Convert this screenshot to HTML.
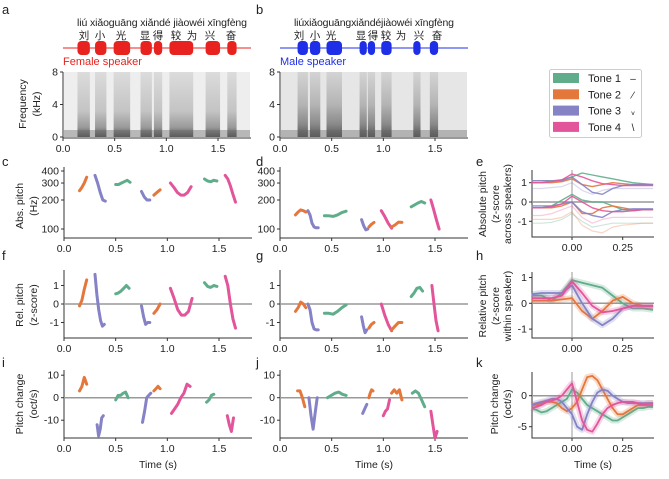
<!DOCTYPE html>
<html><head><meta charset="utf-8"><style>
body{margin:0;background:#fff}
svg{font-family:"Liberation Sans","Noto Sans CJK SC",sans-serif;display:block}
.t{font-size:10.5px;fill:#222}
.ax{stroke:#333;stroke-width:1;fill:none}
.z{stroke:#999;stroke-width:1.5}
</style></head><body>
<svg id="fig" width="669" height="479" viewBox="0 0 669 479">
<defs>
<linearGradient id="specF" x1="0" y1="0" x2="0" y2="1"><stop offset="0" stop-color="#dcdcdc"/><stop offset="0.6" stop-color="#c4c4c4"/><stop offset="0.85" stop-color="#9a9a9a"/><stop offset="1" stop-color="#555"/></linearGradient>
<linearGradient id="specM" x1="0" y1="0" x2="0" y2="1"><stop offset="0" stop-color="#d4d4d4"/><stop offset="0.5" stop-color="#b4b4b4"/><stop offset="0.8" stop-color="#8a8a8a"/><stop offset="1" stop-color="#555"/></linearGradient>
</defs>
<g id="root"></g>
</svg>
<script>
// ---------- data ----------
const toneColors=['#5fad8b','#e4773c','#8582c6','#e3559b'];
const toneNames=['Tone 1','Tone 2','Tone 3','Tone 4'];
const toneMarks=['–','∕','ᵥ','\\'];
// segments: [tone, t0, t1, values]
const cF=[[1,0.15,0.22,[250,270,300,345]],[2,0.30,0.40,[360,300,240,200,195]],[0,0.50,0.64,[290,290,300,310,320,305]],[2,0.75,0.83,[245,215,200,200]],[1,0.87,0.93,[225,240,255]],[3,1.03,1.23,[300,270,240,225,225,240,275]],[0,1.36,1.48,[330,315,310,320,315]],[3,1.56,1.66,[360,330,280,230,190]]];
const dM=[[1,0.15,0.25,[140,150,158,155,150]],[2,0.27,0.37,[155,140,115,105,103,103]],[0,0.43,0.64,[137,137,135,140,148,153]],[2,0.79,0.85,[125,108,98,100]],[1,0.86,0.91,[105,112,117]],[3,0.98,1.08,[155,135,115,102]],[1,1.08,1.18,[105,110,118,117]],[0,1.27,1.40,[170,178,186,193,186]],[3,1.46,1.54,[200,160,125,100]]];
const fF=[[1,0.15,0.22,[-0.1,0.2,0.8,1.3]],[2,0.30,0.39,[1.6,0.5,-0.3,-0.9,-1.2,-1.1]],[0,0.50,0.63,[0.55,0.6,0.7,0.85,1.0,0.85]],[2,0.75,0.83,[-0.1,-0.7,-1.1,-1.0,-1.0]],[1,0.87,0.93,[-0.5,-0.3,0.0]],[3,1.03,1.24,[0.85,0.3,-0.3,-0.6,-0.6,-0.4,0.3]],[0,1.36,1.48,[1.15,0.95,0.9,1.0,0.95]],[3,1.56,1.66,[1.5,1.0,0.0,-0.8,-1.3]]];
const gM=[[1,0.15,0.25,[-0.4,-0.2,0.1,0.0,-0.2]],[2,0.27,0.37,[0.0,-0.3,-1.0,-1.35,-1.4,-1.4]],[0,0.43,0.64,[-0.5,-0.5,-0.55,-0.4,-0.2,-0.05]],[2,0.79,0.84,[-0.7,-1.2,-1.55,-1.4]],[1,0.86,0.91,[-1.3,-1.1,-1.0]],[3,0.98,1.08,[0.0,-0.6,-1.1,-1.45]],[1,1.08,1.18,[-1.4,-1.2,-1.0,-1.0]],[0,1.27,1.38,[0.4,0.6,0.85,0.9,0.7]],[3,1.47,1.53,[1.0,0.0,-0.9,-1.45]]];
const iF=[[1,0.15,0.22,[3,5,9,6]],[2,0.32,0.38,[-12,-17,-14,-9,-8]],[0,0.50,0.62,[-1,1,1,2,2.5,0]],[2,0.76,0.84,[-11,-6,0,1,2]],[1,0.87,0.93,[3,4,5,4]],[3,1.04,1.22,[-7,-5,-3,0,2,6,5]],[0,1.38,1.45,[-2,-1,1,1.5]],[3,1.58,1.64,[-8,-12,-15,-9]]];
const jM=[[1,0.17,0.24,[3,3,0,-4]],[2,0.28,0.36,[0,-8,-14,-7,0]],[0,0.46,0.64,[0,1,2,2.5,1.5,1]],[2,0.80,0.84,[-7,-5,-3]],[1,0.86,0.90,[0,2,3.5,3]],[3,1.00,1.06,[-8,-6,-5,-1]],[1,1.08,1.18,[2,3.5,2,3.5,-1]],[0,1.28,1.40,[2,3,2,-1,-4]],[3,1.46,1.52,[-6,-12,-18,-15]]];
const tGrid=[-0.2,-0.15,-0.1,-0.05,0,0.05,0.1,0.15,0.2,0.25,0.3,0.35,0.4];
const eHi=[[1.1,1.1,1.1,1.15,1.3,1.5,1.4,1.3,1.2,1.1,1.0,0.95,0.9],[1.0,1.0,1.0,1.05,1.2,0.9,0.8,0.9,1.0,0.95,0.9,0.9,0.9],[1.1,1.1,1.1,1.1,1.3,0.9,0.5,0.4,0.7,0.85,0.9,0.9,0.9],[1.0,1.0,1.05,1.15,1.45,1.3,1.1,0.95,0.9,0.85,0.85,0.85,0.85]];
const eLo=[[-0.3,-0.3,-0.2,0.1,0.4,0.1,0.0,0.0,-0.2,-0.4,-0.45,-0.4,-0.4],[-0.3,-0.3,-0.3,-0.2,0.0,-0.6,-0.6,-0.3,-0.2,-0.3,-0.4,-0.4,-0.4],[-0.2,-0.2,-0.2,-0.1,0.0,-0.5,-0.7,-0.8,-0.5,-0.4,-0.35,-0.35,-0.35],[-0.3,-0.3,-0.25,-0.1,0.3,0.0,-0.3,-0.45,-0.5,-0.5,-0.45,-0.4,-0.4]];
const eFaint=[[-1.1,-1.1,-1.05,-0.9,-0.6,-1.0,-1.3,-1.2,-1.1,-1.1,-1.1,-1.1,-1.1],[-0.9,-0.9,-0.9,-0.8,-0.5,-1.2,-1.5,-1.6,-1.3,-1.2,-1.15,-1.1,-1.1],[0.7,0.7,0.75,0.8,1.0,0.6,0.4,0.6,0.7,0.7,0.7,0.7,0.7],[-0.7,-0.7,-0.6,-0.4,-0.2,-0.8,-1.1,-0.9,-0.8,-0.8,-0.8,-0.8,-0.8]];
const hVals=[[0.3,0.3,0.1,0.4,0.9,0.8,0.7,0.6,0.3,0.0,-0.2,-0.2,-0.25],[0.1,0.1,0.1,0.15,0.2,-0.3,-0.6,-0.3,0.1,0.25,0.0,-0.1,-0.1],[0.35,0.4,0.4,0.4,0.7,0.0,-0.6,-0.85,-0.6,-0.2,-0.1,-0.1,-0.1],[0.2,0.2,0.2,0.3,0.85,0.4,-0.1,-0.35,-0.3,-0.2,-0.1,-0.1,-0.1]];
const kTime=[-0.2,-0.175,-0.15,-0.125,-0.1,-0.075,-0.05,-0.025,0,0.025,0.05,0.075,0.1,0.125,0.15,0.175,0.2,0.225,0.25,0.275,0.3,0.325,0.35,0.375,0.4];
const kVals=[[-2,-2.3,-2.7,-2.5,-2,-1.5,-1,-0.5,1,0.5,-0.5,-1.5,-2,-2.5,-3,-3.5,-4,-4,-3.5,-3,-2.5,-2,-2,-1.8,-1.8],[-1.5,-1.5,-1.2,-1,-1,-1.2,-2,-2.5,-2,-1,1,3,3.2,2.5,1,-0.5,-2,-3,-3,-2.5,-2,-1.5,-1.5,-1.2,-1.2],[-1.5,-1.2,-1,-0.8,-0.5,-0.5,-1,-2,-3,-5,-5.5,-3,-1,0.5,1,0.8,0,-0.5,-1,-1.2,-1.2,-1.2,-1.2,-1.2,-1.2],[-2,-1.8,-1.5,-1,-0.8,-0.5,0,1,2,-1,-4,-5.5,-5.8,-4.5,-3,-2,-1.5,-1.2,-1,-1,-1,-1.2,-1.5,-1.5,-1.5]];
const timeTicks=[0.0,0.5,1.0,1.5];
const blobsF=[[0.14,0.26],[0.31,0.42],[0.49,0.65],[0.75,0.86],[0.88,0.96],[1.03,1.26],[1.38,1.52],[1.59,1.68]];
const blobsM=[[0.17,0.27],[0.29,0.39],[0.45,0.60],[0.77,0.84],[0.85,0.92],[0.98,1.08],[1.29,1.36],[1.45,1.53]];

// ---------- helpers ----------
const NS='http://www.w3.org/2000/svg';
const root=document.getElementById('root');
function el(tag,attrs,parent){const e=document.createElementNS(NS,tag);for(const k in attrs)e.setAttribute(k,attrs[k]);(parent||root).appendChild(e);return e;}
function txt(x,y,s,o,parent){o=o||{};const e=el('text',{x:x,y:y,class:'t','text-anchor':o.a||'middle'},parent);if(o.size)e.style.fontSize=o.size+'px';if(o.fill)e.setAttribute('fill',o.fill),e.style.fill=o.fill;if(o.rot)e.setAttribute('transform','rotate(-90 '+x+' '+y+')');if(o.tl)e.setAttribute('textLength',o.tl);e.textContent=s;return e;}
function lin(d0,d1,r0,r1){return v=>r0+(v-d0)/(d1-d0)*(r1-r0);}
function logS(d0,d1,r0,r1){return v=>r0+(Math.log(v)-Math.log(d0))/(Math.log(d1)-Math.log(d0))*(r1-r0);}
function axes(name,x0,x1,y0,y1){const g=el('g',{});el('path',{d:`M${x0} ${y0}V${y1}H${x1}`,class:'ax'},g);return g;}
function ytick(g,x0,y,lab){el('line',{x1:x0-3,x2:x0,y1:y,y2:y,stroke:'#333'},g);txt(x0-5,y+3.5,lab,{a:'end'},g);}
function xtick(g,x,y1,lab){el('line',{x1:x,x2:x,y1:y1,y2:y1+3,stroke:'#333'},g);txt(x,y1+14,lab,{},g);}
function label(x,y,s){const e=txt(x,y,s,{a:'start',size:13});}
function segs(g,data,sx,sy,name){data.forEach((s,i)=>{const [tone,t0,t1,vals]=s;const n=vals.length;const pts=vals.map((v,j)=>sx(t0+(t1-t0)*j/(n-1)).toFixed(1)+','+sy(v).toFixed(1));const p=el('polyline',{points:pts.join(' '),fill:'none',stroke:toneColors[tone],'stroke-width':3,'stroke-linecap':'round','stroke-linejoin':'round'},g);

});}
function curve(g,ts,vals,sx,sy,color,w,op,name){const pts=vals.map((v,j)=>sx(ts[j]).toFixed(1)+','+sy(v).toFixed(1));const p=el('polyline',{points:pts.join(' '),fill:'none',stroke:color,'stroke-width':w,'stroke-opacity':op,'stroke-linejoin':'round'},g);

return p;}

// ---------- panels a & b ----------
function speech(xL,blobs,color,pinyin,chars,spk,specFill,specName,bg){
  const sx=lin(0,1.8,xL,xL+186);
  const g=el('g',{});
  
  
  txt(xL+14,26,pinyin[0],{a:'start',tl:pinyin[1]},g);
  chars.forEach(c=>txt(c[1],39,c[0],{},g));
  el('line',{x1:xL,x2:xL+188,y1:48,y2:48,stroke:color,'stroke-width':1},g);
  blobs.forEach((b,i)=>{const r=el('rect',{x:sx(b[0]),y:41,width:sx(b[1])-sx(b[0]),height:14,rx:4,fill:color},g);
    
    });
  txt(xL,65,spk,{a:'start',fill:color,size:11},g);
  el('rect',{x:xL+1,y:72,width:186,height:65,fill:bg},g);
  blobs.forEach(b=>el('rect',{x:sx(b[0]),y:72,width:sx(b[1])-sx(b[0]),height:65,fill:'url(#'+specFill+')'},g));
  el('rect',{x:xL+1,y:130,width:186,height:7,fill:'#666','fill-opacity':0.4},g);
  el('path',{d:`M${xL} 72V138H${xL+188}`,class:'ax'},g);
  [[8,72],[4,104.5],[0,137]].forEach(t=>ytick(g,xL,t[1],t[0]));
  timeTicks.forEach(t=>xtick(g,sx(t),138,t.toFixed(1)));
}
label(2,14,'a');label(256,14,'b');
speech(63,blobsF,'#e8231f',['liú xiǎoguāng xiǎndé jiàowéi  xīngfèng',170],[['刘',84],['小',100],['光',121],['显',145],['得',158],['较',176],['为',192],['兴',210],['奋',231]],'Female speaker','specF','spectrogram-female','#eeeeee');
speech(280,blobsM,'#1f2fe8',['liúxiǎoguāngxiǎndéjiàowéi xīngfèng',160],[['刘',299],['小',315],['光',331],['显',361],['得',373],['较',386],['为',401],['兴',419],['奋',437]],'Male speaker','specM','spectrogram-male','#e6e6e6');
txt(26,104,'Frequency',{rot:1});txt(40,104,'(kHz)',{rot:1});

// ---------- c,d f,g i,j ----------
function timePanel(xL,yTop,yBot,sy,ticks,data,name,zero,xlabel){
  const sx=lin(0,1.8,xL,xL+186);
  const g=axes(name,xL,xL+188,yTop,yBot);
  ticks.forEach(t=>ytick(g,xL,sy(t),String(t)));
  timeTicks.forEach(t=>xtick(g,sx(t),yBot,t.toFixed(1)));
  if(zero) el('line',{x1:xL,x2:xL+188,y1:sy(0),y2:sy(0),class:'z'},g);
  segs(g,data,sx,sy,name);
  if(xlabel) txt(xL+94,468,'Time (s)',{},g);
}
label(2,166,'c');label(256,166,'d');label(476,166,'e');
timePanel(64,167,238,logS(100,400,229,171),[100,200,300,400],cF,'abs-pitch-female',false);
timePanel(280,167,238,logS(100,400,229,171),[100,200,300,400],dM,'abs-pitch-male',false);
txt(23,206,'Abs. pitch',{rot:1});txt(37,206,'(Hz)',{rot:1});
label(2,260,'f');label(256,260,'g');label(476,260,'h');
timePanel(64,270,338,lin(0,1,304,285.5),[-1,0,1],fF,'rel-pitch-female',true);
timePanel(280,270,338,lin(0,1,304,285.5),[-1,0,1],gM,'rel-pitch-male',true);
txt(23,305,'Rel. pitch',{rot:1});txt(37,305,'(z-score)',{rot:1});
label(2,367,'i');label(256,367,'j');label(476,367,'k');
timePanel(64,370,438,lin(0,10,397.7,375.2),[-10,0,10],iF,'pitch-change-female',true,true);
timePanel(280,370,438,lin(0,10,397.7,375.2),[-10,0,10],jM,'pitch-change-male',true,true);
txt(23,404,'Pitch change',{rot:1});txt(37,404,'(oct/s)',{rot:1});

// ---------- e,h,k ----------
function avgPanel(yTop,yBot,sy,ticks,name){
  const sx=lin(0,0.25,572,622.7);
  const g=axes(name,532,654,yTop,yBot);
  ticks.forEach(t=>ytick(g,532,sy(t),String(t)));
  [0,0.25].forEach(t=>xtick(g,sx(t),yBot,t.toFixed(2)));
  el('line',{x1:532,x2:654,y1:sy(0),y2:sy(0),class:'z'},g);
  el('line',{x1:sx(0),x2:sx(0),y1:yTop,y2:yBot,stroke:'#999','stroke-width':1},g);
  return {g,sx};
}
let P=avgPanel(170,237,lin(0,1,202,182.7),[-1,0,1],'abs-pitch-zscore-panel');
eFaint.forEach((v,i)=>curve(P.g,tGrid,v,P.sx,lin(0,1,202,182.7),toneColors[i],1.2,0.3,'e-faint-'+(i+1)));
eHi.forEach((v,i)=>curve(P.g,tGrid,v,P.sx,lin(0,1,202,182.7),toneColors[i],1.4,0.9,'e-high-'+toneNames[i].replace(' ','').toLowerCase()));
eLo.forEach((v,i)=>curve(P.g,tGrid,v,P.sx,lin(0,1,202,182.7),toneColors[i],1.4,0.9,'e-low-'+toneNames[i].replace(' ','').toLowerCase()));
txt(486,204,'Absolute pitch',{rot:1});txt(499,204,'(z-score',{rot:1});txt(511,204,'across speakers)',{rot:1});
P=avgPanel(272,338,lin(0,1,303.3,277.5),[-1,0,1],'rel-pitch-zscore-panel');
hVals.forEach((v,i)=>{curve(P.g,tGrid,v,P.sx,lin(0,1,303.3,277.5),toneColors[i],6,0.25,'h-band-'+(i+1));curve(P.g,tGrid,v,P.sx,lin(0,1,303.3,277.5),toneColors[i],1.8,1,'h-mean-'+(i+1));});
txt(486,306,'Relative pitch',{rot:1});txt(499,306,'(z-score',{rot:1});txt(511,306,'within speaker)',{rot:1});
P=avgPanel(372,438,lin(0,-5,395.7,426.7),[-5,0],'pitch-change-avg-panel');
kVals.forEach((v,i)=>{curve(P.g,kTime,v,P.sx,lin(0,-5,395.7,426.7),toneColors[i],6,0.25,'k-band-'+(i+1));curve(P.g,kTime,v,P.sx,lin(0,-5,395.7,426.7),toneColors[i],1.8,1,'k-mean-'+(i+1));});
txt(498,404,'Pitch change',{rot:1});txt(511,404,'(oct/s)',{rot:1});
txt(593,468,'Time (s)');

// ---------- legend ----------
const lg=el('g',{});


el('rect',{x:549.5,y:69.5,width:92,height:68,rx:2,fill:'#fff',stroke:'#ccc'},lg);
toneNames.forEach((n,i)=>{const y=78+i*16.3;const e=el('g',{},lg);
  
  
  el('rect',{x:553,y:y-5,width:26,height:10,fill:toneColors[i]},e);
  txt(588,y+4,n,{a:'start',size:11},e);
  txt(633,y+4,toneMarks[i],{size:10},e);});
</script>
</body></html>
